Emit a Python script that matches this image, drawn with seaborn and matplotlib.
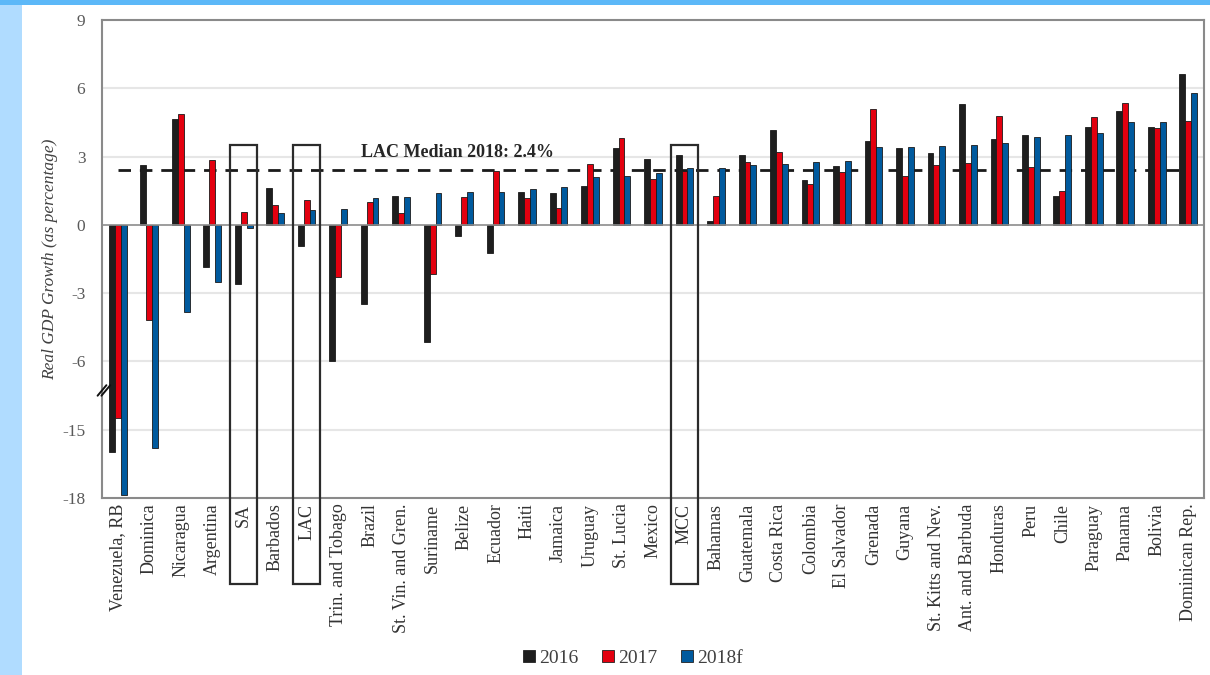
import numpy as np
import pandas as pd
import matplotlib
matplotlib.use("Agg")
import matplotlib.pyplot as plt
import matplotlib.transforms as mtransforms
from matplotlib.patches import Rectangle
from matplotlib.lines import Line2D
import seaborn as sns

# ---------------- data ----------------
countries = ["Venezuela, RB", "Dominica", "Nicaragua", "Argentina", "SA", "Barbados", "LAC",
             "Trin. and Tobago", "Brazil", "St. Vin. and Gren.", "Suriname", "Belize", "Ecuador",
             "Haiti", "Jamaica", "Uruguay", "St. Lucia", "Mexico", "MCC", "Bahamas", "Guatemala",
             "Costa Rica", "Colombia", "El Salvador", "Grenada", "Guyana", "St. Kitts and Nev.",
             "Ant. and Barbuda", "Honduras", "Peru", "Chile", "Paraguay", "Panama", "Bolivia",
             "Dominican Rep."]
g2016 = [-16.0, 2.64, 4.67, -1.83, -2.62, 1.64, -0.95,
         -5.99, -3.47, 1.27, -5.13, -0.50, -1.23,
         1.45, 1.39, 1.72, 3.39, 2.89, 3.07, 0.18, 3.08,
         4.15, 1.97, 2.59, 3.70, 3.36, 3.17,
         5.33, 3.77, 3.96, 1.27, 4.32, 5.01, 4.28, 6.62]
g2017 = [-13.4, -4.18, 4.85, 2.86, 0.55, 0.89, 1.08,
         -2.30, 0.99, 0.53, -2.14, 1.21, 2.35,
         1.17, 0.73, 2.69, 3.81, 2.03, 2.35, 1.28, 2.76,
         3.18, 1.78, 2.31, 5.10, 2.13, 2.63,
         2.73, 4.78, 2.53, 1.49, 4.75, 5.35, 4.25, 4.56]
g2018 = [-17.85, -15.8, -3.83, -2.50, -0.15, 0.53, 0.64,
         0.71, 1.18, 1.23, 1.40, 1.46, 1.46,
         1.59, 1.67, 2.09, 2.13, 2.26, 2.48, 2.50, 2.63,
         2.66, 2.74, 2.82, 3.40, 3.40, 3.48,
         3.49, 3.59, 3.87, 3.96, 4.02, 4.50, 4.53, 5.81]
years = ["2016", "2017", "2018f"]
colors = ["#1e1e1e", "#e3000f", "#005a9e"]
median_2018 = 2.4
boxed = ["SA", "LAC", "MCC"]
yticks = [9, 6, 3, 0, -3, -6, -15, -18]
ylabel = "Real GDP Growth (as percentage)"

df = pd.DataFrame({
    "country": countries * 3,
    "year": [years[0]] * len(countries) + [years[1]] * len(countries) + [years[2]] * len(countries),
    "value": g2016 + g2017 + g2018,
})

# ---------------- broken-axis scale ----------------
def fwd(v):
    v = np.asarray(v, dtype=float)
    return np.where(v >= -6, v, np.where(v >= -15, -6 + (v + 6) / 3.0, v + 6))

def inv(t):
    t = np.asarray(t, dtype=float)
    return np.where(t >= -6, t, np.where(t >= -9, -6 + (t + 6) * 3.0, t - 6))

# ---------------- style ----------------
sns.set_theme(style="white")
plt.rcParams["font.family"] = ["Liberation Serif", "DejaVu Serif"]

fig = plt.figure(figsize=(12.1, 6.75), dpi=100, facecolor="white")
fig.patches.append(Rectangle((0, 0), 22 / 1210, 1, transform=fig.transFigure,
                             facecolor="#b0dcff", edgecolor="none", zorder=-5))
fig.patches.append(Rectangle((0, 1 - 5 / 675), 1, 5 / 675, transform=fig.transFigure,
                             facecolor="#5cb8f8", edgecolor="none", zorder=-4))

ax = fig.add_axes([102 / 1210, 1 - 498 / 675, 1102 / 1210, 478 / 675])
ax.set_yscale("function", functions=(fwd, inv))

sns.barplot(data=df, x="country", y="value", hue="year", hue_order=years,
            palette=colors, saturation=1, width=0.56, edgecolor="#1a1a1a",
            linewidth=0.6, ax=ax, legend=False, zorder=3)

ax.set_ylim(-18, 9)
ax.set_xlim(-0.5, len(countries) - 0.5)
ax.set_yticks(yticks)
ax.set_yticklabels([str(t) for t in yticks])
for t in yticks:
    if t not in (9, -18, 0):
        ax.axhline(t, color="#e6e6e6", lw=1.5, zorder=0)
ax.axhline(0, color="#8c8c8c", lw=1.2, zorder=4)

ax.hlines(median_2018, 0, len(countries) - 1, colors="#1a1a1a", lw=2.0,
          linestyles=(0, (4.5, 3.2)), zorder=1)
ax.text(10.8, median_2018 + 0.6, f"LAC Median 2018: {median_2018}%", ha="center",
        va="baseline", fontsize=13, fontweight="bold", color="#262626", zorder=5)

for s in ax.spines.values():
    s.set_color("#8a8a8a")
    s.set_linewidth(1.5)

ax.tick_params(axis="y", length=0, labelsize=12.5, labelcolor="#5a5a5a", pad=12)
ax.tick_params(axis="x", length=0, labelsize=13, labelcolor="#333333", rotation=90, pad=4)
ax.set_xlabel("")
ax.set_ylabel(ylabel, fontsize=12.5, style="italic", color="#404040", labelpad=3)

# boxes around aggregates
blend = mtransforms.blended_transform_factory(ax.transData, ax.transAxes)
for name in boxed:
    i = countries.index(name)
    ax.add_patch(Rectangle((i - 0.43, -0.18), 0.86, 0.918, transform=blend,
                           fill=False, edgecolor="#2b2b2b", lw=1.6, clip_on=False, zorder=6))

# axis break marks
for dx in (0.0, 0.0035):
    ax.add_line(Line2D([-0.004 + dx, 0.004 + dx], [0.214, 0.236], transform=ax.transAxes,
                       color="#111111", lw=1.4, clip_on=False, zorder=7))

handles = [Line2D([], [], marker="s", linestyle="none", markersize=9,
                  markerfacecolor=c, markeredgecolor="#222222", markeredgewidth=0.6)
           for c in colors]
fig.legend(handles, years, loc="center", bbox_to_anchor=(631 / 1210, 1 - 658 / 675),
           ncol=3, frameon=False, fontsize=14, handletextpad=0.05, columnspacing=1.0,
           labelcolor="#404040", handlelength=1.0)

fig.savefig("out.png", dpi=100, facecolor="white")
